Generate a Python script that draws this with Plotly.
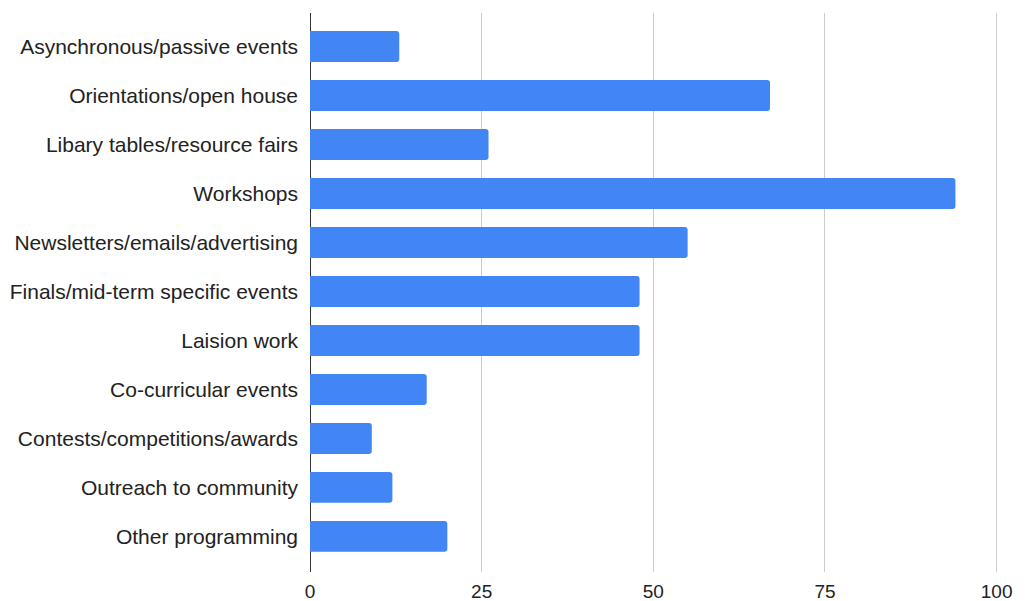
import plotly.graph_objects as go

categories = [
    "Asynchronous/passive events",
    "Orientations/open house",
    "Libary tables/resource fairs",
    "Workshops",
    "Newsletters/emails/advertising",
    "Finals/mid-term specific events",
    "Laision work",
    "Co-curricular events",
    "Contests/competitions/awards",
    "Outreach to community",
    "Other programming",
]
values = [13, 67, 26, 94, 55, 48, 48, 17, 9, 12, 20]
x_ticks = [0, 25, 50, 75, 100]

fig = go.Figure(
    go.Bar(
        x=values,
        y=categories,
        orientation="h",
        marker=dict(color="#4285F4", line=dict(width=0), cornerradius=3),
        width=0.63,
    )
)

fig.update_layout(
    width=1027,
    height=601,
    margin=dict(l=310, r=29, t=13, b=29, autoexpand=False),
    paper_bgcolor="white",
    plot_bgcolor="white",
    font=dict(family="Liberation Sans, Arial, sans-serif", size=19, color="#222222"),
    showlegend=False,
)
fig.update_xaxes(
    range=[0, 100.2],
    tickvals=x_ticks,
    ticktext=[str(t) for t in x_ticks],
    showgrid=True,
    gridcolor="#cccccc",
    gridwidth=1,
    zeroline=True,
    zerolinecolor="#333333",
    zerolinewidth=1,
    showline=False,
    ticks="",
    automargin=False,
    ticklabelstandoff=6,
    tickfont=dict(size=19, color="#222222"),
)
fig.update_yaxes(
    categoryorder="array",
    categoryarray=categories,
    range=[10.726, -0.684],
    showgrid=False,
    zeroline=False,
    showline=False,
    ticks="",
    automargin=False,
    ticklabelstandoff=11,
    tickfont=dict(size=21, color="#222222"),
)

fig.write_html("out.html")
